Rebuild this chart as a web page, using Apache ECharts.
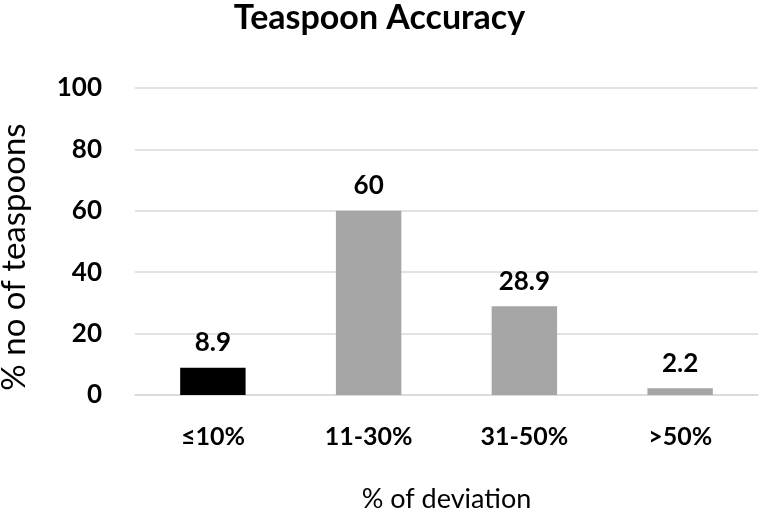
<!DOCTYPE html>
<html><head><meta charset="utf-8">
<script src="https://cdn.jsdelivr.net/npm/echarts@6/dist/echarts.min.js"></script>
<style>html,body{margin:0;padding:0;background:#fff}#c{width:759px;height:513px}</style>
</head><body><div id="c"></div>
<script>
var categories = ['≤10%', '11-30%', '31-50%', '>50%'];
var values = [8.9, 60, 28.9, 2.2];
var barColors = ['#000000', '#a6a6a6', '#a6a6a6', '#a6a6a6'];
var FONT = 'Lato';
var chart = echarts.init(document.getElementById('c'));
chart.setOption({
  backgroundColor: '#fff',
  animation: false,
  title: {text: 'Teaspoon Accuracy', left: 'center', top: -4,
    textStyle: {fontFamily: FONT, fontWeight: 'bold', fontSize: 34, color: '#000'}},
  grid: {left: 135, right: 1, top: 88, bottom: 118, containLabel: false, outerBoundsMode: 'none'},
  xAxis: {type: 'category', data: categories,
    axisLine: {show: true, lineStyle: {color: '#d9d9d9', width: 1.5}},
    axisTick: {show: false},
    axisLabel: {margin: 29, fontFamily: FONT, fontWeight: 'bold', fontSize: 25, color: '#000'},
    name: '% of deviation', nameLocation: 'middle', nameGap: 104,
    nameTextStyle: {fontFamily: FONT, fontSize: 27, color: '#000', verticalAlign: 'middle'}},
  yAxis: {type: 'value', min: 0, max: 100, interval: 20,
    axisLine: {show: false}, axisTick: {show: false},
    splitLine: {lineStyle: {color: '#d9d9d9', width: 1.5}},
    axisLabel: {margin: 33, fontFamily: FONT, fontWeight: 'bold', fontSize: 26, color: '#000'},
    name: '% no of teaspoons', nameLocation: 'middle', nameGap: 121, nameRotate: 90,
    nameTextStyle: {fontFamily: FONT, fontSize: 33, color: '#000', verticalAlign: 'middle', padding: [0, 0, 0, -31]}},
  series: [{type: 'bar', barWidth: '42%',
    data: values.map(function (v, i) { return {value: v, itemStyle: {color: barColors[i]}}; }),
    label: {show: true, position: 'top', distance: 12, fontFamily: FONT, fontWeight: 'bold', fontSize: 26, color: '#000'}}]
});
</script></body></html>
